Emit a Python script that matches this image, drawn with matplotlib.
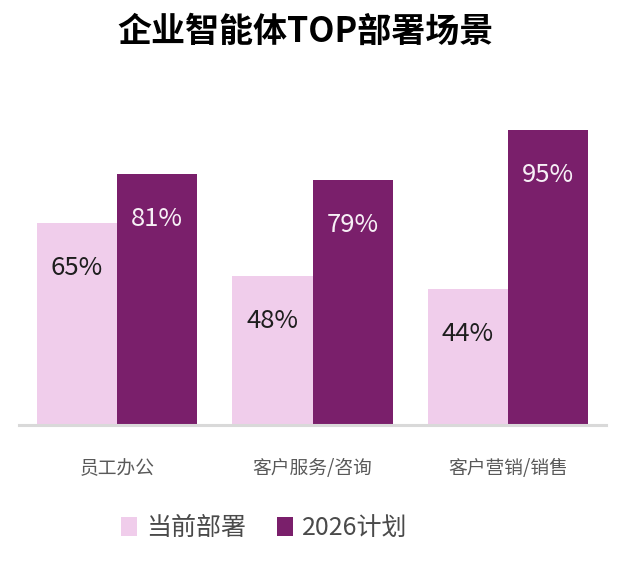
import matplotlib
matplotlib.use("Agg")
import matplotlib.pyplot as plt
import numpy as np

plt.rcParams['font.family'] = ['Noto Sans CJK SC', 'DejaVu Sans']

# data
categories = ['员工办公', '客户服务/咨询', '客户营销/销售']
current = [65, 48, 44]
plan_2026 = [81, 79, 95]
series_names = ['当前部署', '2026计划']

light = '#f0cdeb'
dark = '#7a1f6b'

fig = plt.figure(figsize=(6.39, 5.68), dpi=100)
ax = fig.add_axes([19 / 639, 143 / 568, 587 / 639, 310 / 568])

x = np.arange(len(categories))
w = 0.41
b1 = ax.bar(x - w / 2, current, w, color=light, label=series_names[0])
b2 = ax.bar(x + w / 2, plan_2026, w, color=dark, label=series_names[1])

# value labels inside the bars, near the top
for rect, v in zip(b1, current):
    ax.text(rect.get_x() + rect.get_width() / 2, v - 14.5, f'{v}%',
            ha='center', va='center', fontsize=18.5, color='#1e1e1e')
for rect, v in zip(b2, plan_2026):
    ax.text(rect.get_x() + rect.get_width() / 2, v - 14.5, f'{v}%',
            ha='center', va='center', fontsize=18.5, color='#f7f0f6')

ax.set_xlim(-0.5, 2.5)
ax.set_ylim(0, 100)
ax.set_yticks([])
ax.set_xticks(x)
ax.set_xticklabels(categories, fontsize=13.5, color='#595959')
ax.tick_params(axis='x', length=0, pad=24)
for s in ['top', 'left', 'right']:
    ax.spines[s].set_visible(False)
ax.spines['bottom'].set_color('#d9d9d9')
ax.spines['bottom'].set_linewidth(2.2)

fig.text(306 / 639, 1 - 31 / 568, '企业智能体TOP部署场景', ha='center', va='center',
         fontsize=24.5, fontweight='bold', color='black')

leg = fig.legend(handles=[b1, b2], labels=series_names, loc='center left',
                 bbox_to_anchor=(121 / 639, 40 / 568), ncol=2, frameon=False,
                 fontsize=18, handlelength=0.62, handleheight=0.8,
                 handletextpad=0.38, columnspacing=1.25, borderpad=0,
                 borderaxespad=0)
for t in leg.get_texts():
    t.set_color('#4a4a4a')

fig.savefig('out.png', dpi=100)
